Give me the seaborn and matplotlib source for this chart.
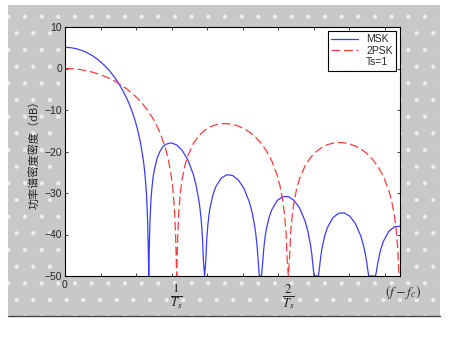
import numpy as np
import pandas as pd
import matplotlib
matplotlib.use('Agg')
import matplotlib.pyplot as plt
import seaborn as sns
from matplotlib.lines import Line2D
from matplotlib.patches import Rectangle

# frequency axis in units of 1/Ts, values in dB
f_psk = [0, 0.05, 0.1, 0.15, 0.2, 0.25, 0.3, 0.35, 0.4, 0.45, 0.5, 0.55, 0.6, 0.65, 0.7,
         0.75, 0.8, 0.85, 0.9, 0.925, 0.95, 0.965, 0.98, 0.99, 1.0, 1.01, 1.02, 1.035, 1.05,
         1.075, 1.1, 1.15, 1.2, 1.25, 1.3, 1.35, 1.4, 1.45, 1.5, 1.55, 1.6, 1.65, 1.7, 1.75,
         1.8, 1.85, 1.9, 1.925, 1.95, 1.965, 1.98, 1.99, 2.0, 2.01, 2.02, 2.035, 2.05, 2.075,
         2.1, 2.15, 2.2, 2.25, 2.3, 2.35, 2.4, 2.45, 2.5, 2.55, 2.6, 2.65, 2.7, 2.75, 2.8,
         2.85, 2.9, 2.925, 2.95, 2.965, 2.98, 2.99, 3.0]
psd_psk = [0.0, -0.04, -0.14, -0.32, -0.58, -0.91, -1.33, -1.83, -2.42, -3.11, -3.92, -4.86,
           -5.94, -7.20, -8.69, -10.45, -12.62, -15.39, -19.23, -21.90, -25.61, -28.83, -33.8,
           -39.9, -50, -40.1, -34.2, -29.44, -26.5, -23.21, -20.97, -18.02, -16.14, -14.89,
           -14.06, -13.55, -13.30, -13.28, -13.46, -13.86, -14.46, -15.30, -16.39, -17.81,
           -19.67, -22.15, -25.72, -28.27, -31.86, -35.01, -39.9, -46.0, -50, -46.1, -40.1,
           -35.31, -32.29, -28.92, -26.59, -23.45, -21.41, -20.0, -19.02, -18.37, -17.98,
           -17.83, -17.90, -18.18, -18.68, -19.41, -20.41, -21.74, -23.50, -25.90, -29.39,
           -31.90, -35.45, -38.58, -43.5, -49.5, -50]

f_msk = [0, 0.05, 0.1, 0.15, 0.2, 0.25, 0.3, 0.35, 0.4, 0.45, 0.5, 0.55, 0.575, 0.6, 0.625,
         0.65, 0.675, 0.7, 0.71, 0.72, 0.73, 0.74, 0.745, 0.75, 0.755, 0.76, 0.77, 0.78, 0.79,
         0.8, 0.825, 0.85, 0.875, 0.9, 0.95, 1.0, 1.05, 1.1, 1.15, 1.175, 1.2, 1.21, 1.22,
         1.23, 1.24, 1.25, 1.26, 1.27, 1.28, 1.29, 1.3, 1.325, 1.35, 1.4, 1.45, 1.5, 1.55,
         1.6, 1.65, 1.675, 1.7, 1.71, 1.72, 1.73, 1.74, 1.76, 1.77, 1.78, 1.79, 1.8, 1.825,
         1.85, 1.9, 1.95, 2.0, 2.05, 2.1, 2.15, 2.175, 2.2, 2.21, 2.22, 2.23, 2.25, 2.27, 2.28,
         2.29, 2.3, 2.325, 2.35, 2.4, 2.45, 2.5, 2.55, 2.6, 2.65, 2.675, 2.69, 2.7, 2.71, 2.72,
         2.78, 2.79, 2.8, 2.825, 2.85, 2.9, 2.95, 3.0]
psd_msk = [5.11, 5.03, 4.78, 4.37, 3.78, 3.01, 2.04, 0.85, -0.60, -2.33, -4.43, -7.01, -8.54,
           -10.28, -12.30, -14.71, -17.73, -21.79, -23.96, -26.7, -30.46, -36.7, -42.9, -50,
           -43.1, -37.3, -31.50, -28.3, -26.05, -24.41, -21.65, -19.98, -18.92, -18.29, -17.90,
           -18.41, -19.75, -22.01, -25.59, -28.23, -31.96, -33.99, -36.6, -40.24, -46.4, -50,
           -46.7, -40.82, -37.5, -35.15, -33.40, -30.40, -28.50, -26.38, -25.60, -25.77,
           -26.79, -28.76, -32.09, -34.60, -38.20, -40.19, -42.75, -46.35, -50, -50, -46.76,
           -43.4, -41.0, -39.22, -36.12, -34.12, -31.81, -30.87, -30.88, -31.75, -33.58,
           -36.77, -39.21, -42.76, -44.72, -47.3, -50, -50, -50, -47.7, -45.35, -43.54, -40.39,
           -38.33, -35.93, -34.88, -34.80, -35.59, -37.33, -40.44, -42.85, -44.77, -46.35,
           -48.3, -50, -50, -48.8, -47.0, -43.80, -41.71, -39.24, -38.14, -38.00]

y_ticks = [-50, -40, -30, -20, -10, 0, 10]
x_labels = [(1, r'$\frac{1}{T_s}$'), (2, r'$\frac{2}{T_s}$')]
series_names = ['MSK', '2PSK', 'Ts=1']

sns.set_style('ticks')
plt.rcParams['font.family'] = ['Liberation Sans', 'Noto Sans CJK SC', 'DejaVu Sans']
plt.rcParams['mathtext.fontset'] = 'stix'
plt.rcParams['hatch.linewidth'] = 0.6

fig = plt.figure(figsize=(4.5, 3.57), dpi=100)
fig.patch.set_facecolor('white')

# gray dotted panel behind the axes
bg = Rectangle((8 / 450, 1 - 316 / 357), 432 / 450, 311 / 357, transform=fig.transFigure,
               facecolor='#c8c8c8', edgecolor='#eeeeee', hatch='.', linewidth=0, zorder=-5)
fig.patches.append(bg)
fig.add_artist(Line2D([8 / 450, 440 / 450], [1 - 316 / 357] * 2, color='#444444', lw=1.0,
                      zorder=-4))

ax = fig.add_axes([65 / 450, 1 - 276 / 357, 335 / 450, 249 / 357])
ax.set_zorder(2)
ax.set_facecolor('white')

df_msk = pd.DataFrame({'f': f_msk, 'psd': psd_msk})
df_psk = pd.DataFrame({'f': f_psk, 'psd': psd_psk})
sns.lineplot(data=df_msk, x='f', y='psd', ax=ax, color='#3c3cff', lw=0.9, label=series_names[0])
sns.lineplot(data=df_psk, x='f', y='psd', ax=ax, color='#ff3c3c', lw=0.9,
             linestyle=(0, (7, 3)), label=series_names[1])

ax.set_xlim(0, 3)
ax.set_ylim(-50, 10)
ax.set_yticks(y_ticks)
ax.set_xticks([k / np.pi for k in range(1, 10)])
ax.set_xticklabels([])
ax.tick_params(direction='in', length=2.5, width=0.6, labelsize=7.5, top=True, right=True, pad=2)
for s in ax.spines.values():
    s.set_linewidth(0.8)
    s.set_color('black')

ax.set_xlabel('')
ax.set_ylabel('功率谱密度密度（dB）', fontsize=8, labelpad=4,
              family=['Noto Sans CJK SC', 'DejaVu Sans'])

# custom x labels below the axis
ax.text(0, -0.035, '0', transform=ax.get_xaxis_transform(), ha='center', va='center', fontsize=7.5)
for xv, lab in x_labels:
    ax.text(xv, -0.085, lab, transform=ax.get_xaxis_transform(), ha='center', va='center',
            fontsize=13, color='#222222')
ax.text(3.03, -0.065, r'$(f-f_c)$', transform=ax.get_xaxis_transform(), ha='center',
        va='center', fontsize=10, color='#333333', clip_on=False)

handles, labels = ax.get_legend_handles_labels()
handles.append(Line2D([], [], color='none'))
labels.append(series_names[2])
leg = ax.legend(handles, labels, loc='upper right', fontsize=7.5, frameon=True, fancybox=False,
                edgecolor='black', framealpha=1, handlelength=2.6, borderpad=0.3,
                labelspacing=0.15, handletextpad=0.8, borderaxespad=0.4)
leg.get_frame().set_linewidth(0.8)

fig.savefig('out.png', dpi=100)
